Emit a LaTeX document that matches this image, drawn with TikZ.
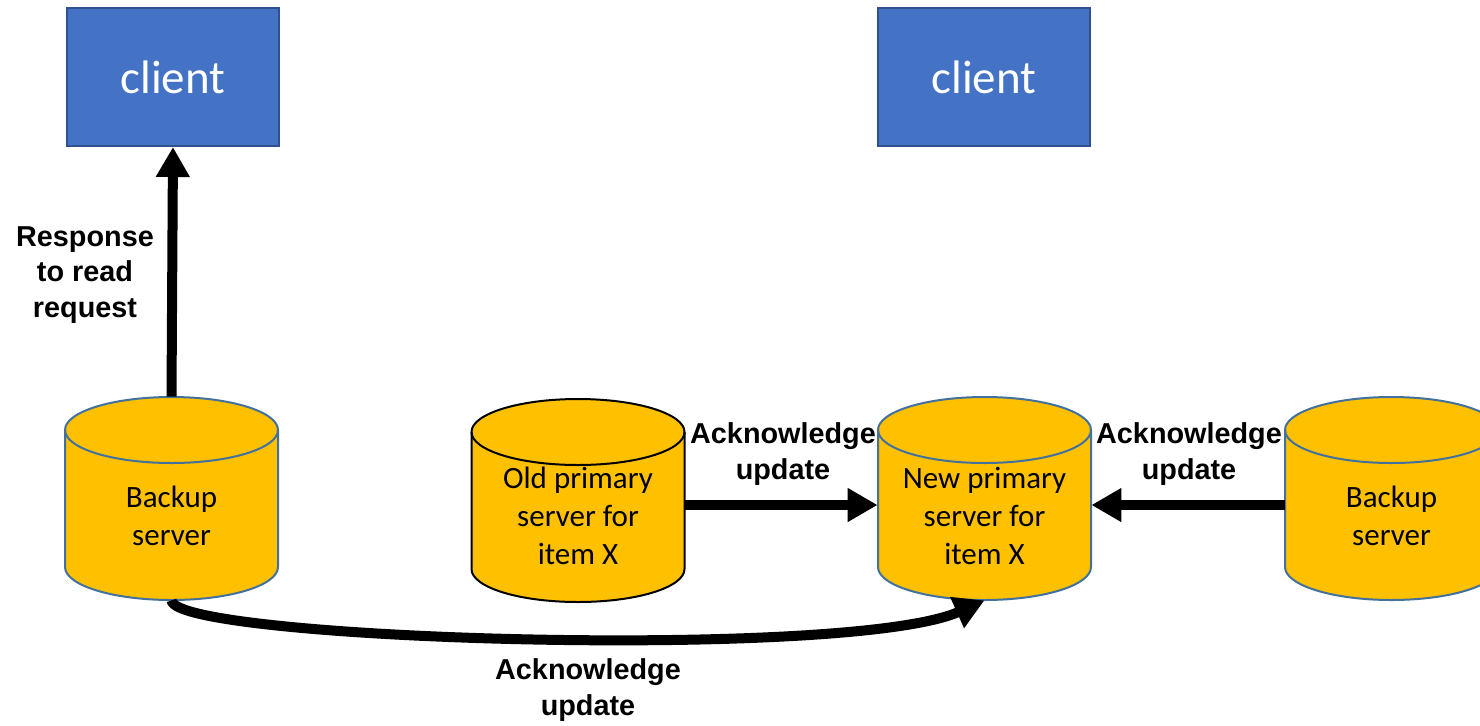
\documentclass[tikz,border=0pt]{standalone}
\usepackage{fontspec}
\setmainfont{Carlito}
\newfontfamily\labelfont{Liberation Sans}
\usetikzlibrary{arrows.meta}
\definecolor{clientblue}{HTML}{4472C4}
\definecolor{clientedge}{HTML}{2F528F}
\definecolor{dbyellow}{HTML}{FFC000}
\definecolor{dbedge}{HTML}{41719C}
\tikzset{
  clientbox/.style={draw=clientedge, line width=1pt, fill=clientblue,
    minimum width=106pt, minimum height=69pt, inner sep=0pt, text=white,
    font=\fontsize{23.5}{28}\selectfont},
  dbtext/.style={align=center, font=\fontsize{15.5}{19}\selectfont, inner sep=0pt},
  dbanchor/.style={inner sep=0pt, minimum width=106.5pt, minimum height=101.5pt},
  lbl/.style={align=center, font=\labelfont\bfseries\fontsize{14.4}{17.6}\selectfont, inner sep=0pt},
  conn/.style={line width=5pt, -{Triangle[length=15pt,width=16pt]}},
}
% database cylinder: name, centre x, top y, outline colour, label
\newcommand\dbcyl[5]{%
  \filldraw[fill=dbyellow, draw=#4, line width=1pt]
    ({#2-106.5},{-#3-33}) -- ({#2-106.5},{-#3-170})
    arc[start angle=180, end angle=360, x radius=53.25pt, y radius=16.5pt]
    -- ({#2+106.5},{-#3-33})
    arc[start angle=0, end angle=180, x radius=53.25pt, y radius=16.5pt] -- cycle;
  \draw[draw=#4, line width=1pt] ({#2-106.5},{-#3-33})
    arc[start angle=180, end angle=360, x radius=53.25pt, y radius=16.5pt];
  \node[dbanchor] (#1) at (#2,{-#3-101.5}) {};
  \node[dbtext] (#1-text) at (#2,-516) {#5};
}
\begin{document}
\begin{tikzpicture}[x=0.5pt, y=0.5pt]
  \clip (0,0) rectangle (1480,-725);

  \node[clientbox] (cl1) at (173,-77) {client};
  \node[clientbox] (cl2) at (984,-77) {client};

  \dbcyl{bk1}{171.5}{397}{dbedge}{Backup\\server}
  \dbcyl{old}{578}{399}{black}{Old primary\\server for\\item X}
  \dbcyl{new}{984.5}{397}{dbedge}{New primary\\server for\\item X}
  \dbcyl{bk2}{1391.5}{397}{dbedge}{Backup\\server}

  \coordinate (ay) at (0,-505);
  \draw[conn] (bk1.north) -- (cl1.south);
  \draw[conn] (old.east |- ay) -- (new.west |- ay);
  \draw[conn] (bk2.west |- ay) -- (new.east |- ay);
  \draw[conn] (bk1.south) .. controls +(3,-40) and +(-135,-60) .. (new.south);

  \node[lbl] (l-resp) at (85,-275) {Response\\to read\\request};
  \node[lbl] (l-ack1) at (783,-454) {Acknowledge\\update};
  \node[lbl] (l-ack2) at (1189,-454) {Acknowledge\\update};
  \node[lbl] (l-ack3) at (588,-690) {Acknowledge\\update};
\end{tikzpicture}
\end{document}
